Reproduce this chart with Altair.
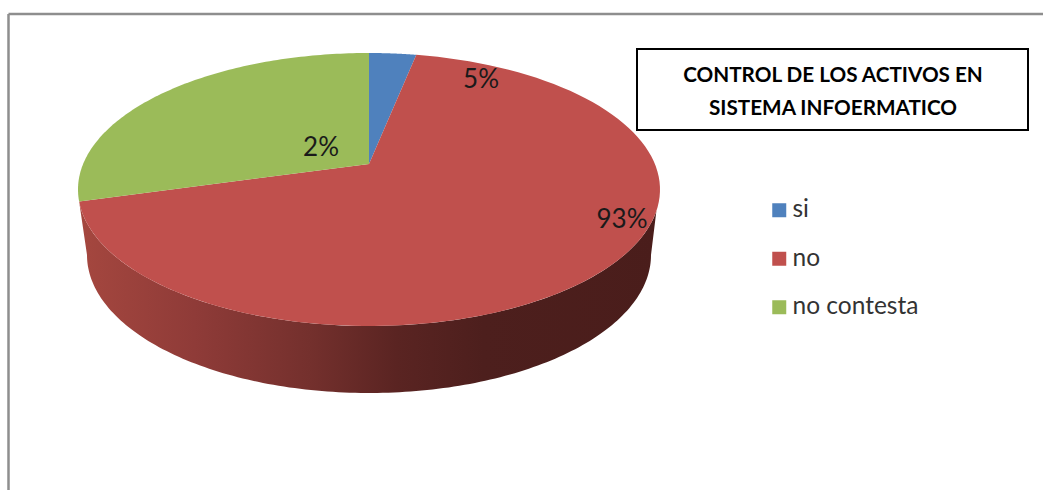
import altair as alt
import numpy as np
import pandas as pd

# Legend categories and their colours
categories = ["si", "no", "no contesta"]
colors = ["#4F81BD", "#C0504D", "#9BBB59"]
# Share of the rim taken by each slice, in percent
rim_shares = [2.6, 71.0, 26.4]
# Percentages printed on the pie
printed_labels = ["5%", "93%", "2%"]
title_lines = ["CONTROL DE LOS ACTIVOS EN", "SISTEMA INFOERMATICO"]

FONT = "Lato"
W, H = 1043, 490

# Tilted pie: the top face is an ellipse whose hub sits above its middle
CX, CY = 369, 189.5
RX, RY = 291, 136.5
HUB = (0, 25.5)
# Lower rim of the side wall, relative to the same origin
LOW_RX, LOW_RY, LOW_DY = 282, 138, -65.5


def rim(t0, t1, rx=RX, ry=RY, dy=0.0, n=120):
    t = np.radians(np.linspace(t0, t1, n))
    return [[float(rx * np.sin(a)), float(ry * np.cos(a) + dy)] for a in t]


def polygon(name, ring):
    ring = ring + [ring[0]]
    return {"type": "Feature", "properties": {"name": name},
            "geometry": {"type": "Polygon", "coordinates": [ring]}}


# Slices run clockwise from twelve o'clock
features = []
start = 0.0
for name, share in zip(categories, rim_shares):
    stop = start + share * 3.6
    features.append(polygon(name, [list(HUB)] + rim(start, stop)))
    start = stop

# Side wall: front arc of the top face, then the lower rim back again
wall_start = 360 - rim_shares[2] * 3.6
wall = polygon(
    "wall",
    rim(wall_start, 99) + rim(90, 270, LOW_RX, LOW_RY, LOW_DY, n=160),
)

projection = alt.Projection(type="identity", scale=1, translate=[CX, CY], reflectY=True)


def geo_data(items):
    return alt.InlineData(
        values={"type": "FeatureCollection", "features": items},
        format=alt.DataFormat(property="features", type="json"),
    )


wall_gradient = alt.Gradient(
    gradient="linear", x1=0, x2=1, y1=0, y2=0,
    stops=[
        alt.GradientStop(offset=0.0, color="#A5473F"),
        alt.GradientStop(offset=0.2, color="#8F3B38"),
        alt.GradientStop(offset=0.4, color="#74302D"),
        alt.GradientStop(offset=0.55, color="#5A2422"),
        alt.GradientStop(offset=0.7, color="#4D1F1D"),
        alt.GradientStop(offset=1.0, color="#4A1D1B"),
    ],
)

wall_layer = (
    alt.Chart(geo_data([wall]))
    .mark_geoshape(fill=wall_gradient, strokeWidth=0)
    .project(**projection.to_dict())
)

slice_layer = (
    alt.Chart(geo_data(features))
    .mark_geoshape(strokeWidth=0)
    .encode(
        color=alt.Color(
            "properties.name:N",
            scale=alt.Scale(domain=categories, range=colors),
            sort=categories,
            legend=alt.Legend(
                title=None,
                orient="none",
                legendX=767,
                legendY=198,
                symbolType="square",
                symbolSize=196,
                symbolStrokeWidth=0,
                labelFont=FONT,
                labelFontSize=24.5,
                labelColor="#333333",
                labelOffset=1,
                rowPadding=23.5,
            ),
        )
    )
    .project(**projection.to_dict())
)


def text_layer(text, x, y, size, weight="normal", color="#1a1a1a"):
    return (
        alt.Chart(pd.DataFrame({"label": [text]}))
        .mark_text(font=FONT, fontSize=size, fontWeight=weight, color=color,
                   align="center", baseline="middle")
        .encode(text="label:N", x=alt.value(x), y=alt.value(y))
    )


frame_color = "#8E8E8E"
stub = pd.DataFrame({"k": [0]})
frame_left = alt.Chart(stub).mark_rule(color=frame_color, strokeWidth=2.5).encode(
    x=alt.value(8.5), y=alt.value(14), y2=alt.value(H))
frame_top = alt.Chart(stub).mark_rule(color=frame_color, strokeWidth=2.5).encode(
    x=alt.value(8.5), x2=alt.value(W), y=alt.value(14))

title_box = alt.Chart(stub).mark_rect(fill="white", stroke="black", strokeWidth=2).encode(
    x=alt.value(637), x2=alt.value(1028), y=alt.value(49), y2=alt.value(130))

chart = (
    alt.layer(
        frame_left,
        frame_top,
        wall_layer,
        slice_layer,
        title_box,
        text_layer(title_lines[0], 833, 76, 20.7, "bold", "black"),
        text_layer(title_lines[1], 833, 109, 20.7, "bold", "black"),
        text_layer(printed_labels[0], 481, 80, 26),
        text_layer(printed_labels[1], 622, 220, 26),
        text_layer(printed_labels[2], 321, 148, 26),
    )
    .properties(width=W, height=H, padding=0, background="white",
                autosize=alt.AutoSizeParams(type="none"))
    .configure_view(stroke=None)
)

chart.save("out.html", embed_options={"renderer": "svg", "actions": False})
